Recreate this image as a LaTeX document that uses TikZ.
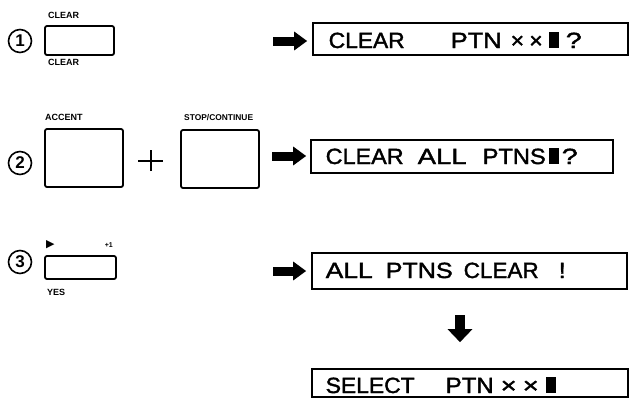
\documentclass[tikz,border=0pt]{standalone}
\usepackage{fontspec}
\setmainfont{Liberation Sans}
\newfontfamily\dvs{DejaVu Sans}
\newfontfamily\lcdfont[FakeBold=1.6]{Liberation Sans}
\usetikzlibrary{arrows.meta}
\newcommand\lcdword[2]{\resizebox{#1pt}{\height}{#2}}
\begin{document}
\begin{tikzpicture}[x=1pt,y=-1pt,
 keybox/.style={draw, line width=1.8pt, rounded corners=2pt, inner sep=0, anchor=center},
 lcd/.style={draw, line width=1.6pt, inner sep=0},
 lcdtxt/.style={anchor=base west, inner sep=0, font=\lcdfont\fontsize{22}{22}\selectfont},
 keylbl/.style={inner sep=0, font=\bfseries\fontsize{9}{9}\selectfont},
 num/.style={circle, draw, line width=1.6pt, minimum size=23pt, inner sep=0, font=\bfseries\fontsize{17}{17}\selectfont},
 cursor/.style={fill=black, inner sep=0, minimum width=10pt, minimum height=15.5pt, anchor=south west},
 plusline/.style={line width=2pt},
 rarrow/.style={line width=9pt, -{Triangle[length=13pt,width=18pt]}},
 darrow/.style={line width=10pt, -{Triangle[length=13pt,width=24pt]}},
]
\useasboundingbox (0,0) rectangle (630,399);

% circled step numbers
\node[num] (n1) at (20,41) {1};
\node[num] (n2) at (20,163) {2};
\node[num] (n3) at (20,262) {3};

% keys
\node[keybox, minimum width=69pt, minimum height=29pt] (k1) at (79.5,40.5) {};
\node[keylbl, anchor=west] (k1t) at (48,15) {CLEAR};
\node[keylbl, anchor=west] (k1b) at (48,62) {CLEAR};

\node[keybox, minimum width=78pt, minimum height=58pt] (k2) at (84,158) {};
\node[keylbl, anchor=west] (k2t) at (45,117) {ACCENT};

% plus sign between the two keys
\coordinate (plus) at (150.5,160.5);
\draw[plusline] ([xshift=-12.5pt]plus) -- ([xshift=12.5pt]plus);
\draw[plusline] ([yshift=-10.5pt]plus) -- ([yshift=10.5pt]plus);

\node[keybox, minimum width=78pt, minimum height=58pt] (k3) at (220,159) {};
\node[keylbl, anchor=west, font=\bfseries\fontsize{8.4}{8.4}\selectfont] (k3t) at (184,118) {STOP/CONTINUE};

\node[keybox, minimum width=71pt, minimum height=23pt] (k4) at (80.5,267.5) {};
\node[inner sep=0, anchor=west, font=\dvs\fontsize{11}{11}\selectfont] (k4a) at (46,245) {▶};
\node[keylbl, anchor=east, font=\bfseries\fontsize{7}{7}\selectfont] (k4p) at (113,245) {+1};
\node[keylbl, anchor=west] (k4b) at (47,292) {YES};

% displays
\node[lcd, minimum width=315pt, minimum height=32pt] (d1) at (470.5,39) {};
\node[lcd, minimum width=302pt, minimum height=33pt] (d2) at (462,156.5) {};
\node[lcd, minimum width=315pt, minimum height=36pt] (d3) at (469.5,271) {};
\node[lcd, minimum width=316pt, minimum height=28pt] (d4) at (470,383) {};

% display 1 text
\node[lcdtxt] (t1a) at (328.5,48) {\lcdword{76}{CLEAR}};
\node[lcdtxt] (t1b) at (450.5,48) {\lcdword{51}{PTN}};
\node[lcdtxt] (t1c) at (510.5,48) {\lcdword{32}{×\hspace{5pt}×}};
\node[cursor] (c1) at (549,48) {};
\node[lcdtxt] (t1d) at (565.5,48) {\lcdword{16}{?}};

% display 2 text
\node[lcdtxt] (t2a) at (325.5,164) {\lcdword{78}{CLEAR}};
\node[lcdtxt] (t2b) at (417.5,164) {\lcdword{49}{ALL}};
\node[lcdtxt] (t2c) at (482.5,164) {\lcdword{63}{PTNS}};
\node[cursor] (c2) at (549,164) {};
\node[lcdtxt] (t2d) at (561.5,164) {\lcdword{16}{?}};

% display 3 text
\node[lcdtxt] (t3a) at (325.5,278) {\lcdword{47}{ALL}};
\node[lcdtxt] (t3b) at (385.5,278) {\lcdword{67}{PTNS}};
\node[lcdtxt] (t3c) at (463.5,278) {\lcdword{75}{CLEAR}};
\node[lcdtxt] (t3d) at (558.5,278) {\lcdword{7}{!}};

% display 4 text
\node[lcdtxt] (t4a) at (325.5,393) {\lcdword{89}{SELECT}};
\node[lcdtxt] (t4b) at (445.5,393) {\lcdword{48}{PTN}};
\node[lcdtxt] (t4c) at (500.5,393) {\lcdword{38}{×\hspace{5pt}×}};
\node[cursor] (c4) at (546,393) {};

% arrows
\coordinate (a1) at (273,41);
\coordinate (a2) at (272,156);
\coordinate (a3) at (273,271);
\coordinate (a4) at (460,315);
\draw[rarrow, shorten >=5pt] (a1) -- (a1 -| d1.west);
\draw[rarrow, shorten >=4pt] (a2) -- (a2 -| d2.west);
\draw[rarrow, shorten >=5pt] (a3) -- (a3 -| d3.west);
\draw[darrow, shorten >=26pt] (a4) -- (a4 |- d4.north);
\end{tikzpicture}
\end{document}
